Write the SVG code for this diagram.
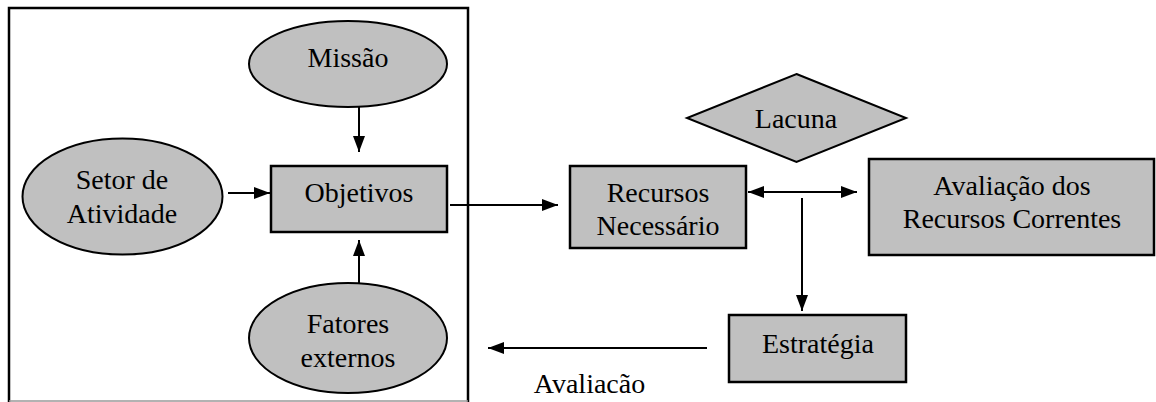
<svg xmlns="http://www.w3.org/2000/svg" width="1156" height="402" viewBox="0 0 1156 402">
<style>
  .shape { fill: #c0c0c0; stroke: #000; stroke-width: 2; }
  .box { fill: #c0c0c0; stroke: #000; stroke-width: 2.5; }
  .frame { fill: none; stroke: #000; stroke-width: 2.5; }
  .lbl { font-family: 'Liberation Serif', 'Times New Roman', Times, serif; font-size: 28px; fill: #000; text-anchor: middle; }
  .conn { stroke: #000; stroke-width: 2; fill: none; }
</style>
<defs>
  <marker id="arr" markerWidth="16" markerHeight="12" refX="16" refY="6" orient="auto-start-reverse" markerUnits="userSpaceOnUse">
    <path d="M0,0 L16,6 L0,12 Z" fill="#000"/>
  </marker>
</defs>
<rect id="frame" class="frame" x="9" y="8" width="459" height="400"/>
<line x1="9" y1="401" x2="468" y2="401" stroke="#999" stroke-width="1.5"/>
<g id="missao">
  <ellipse class="shape" cx="348" cy="64" rx="99" ry="43"/>
  <text class="lbl" x="348" y="67">Missão</text>
</g>
<g id="setor">
  <ellipse class="shape" cx="122.5" cy="196.5" rx="100" ry="58"/>
  <text class="lbl" x="122" y="189">Setor de</text>
  <text class="lbl" x="122" y="223">Atividade</text>
</g>
<g id="objetivos">
  <rect class="box" x="271" y="166" width="176" height="66"/>
  <text class="lbl" x="359" y="202">Objetivos</text>
</g>
<g id="fatores">
  <ellipse class="shape" cx="348" cy="338" rx="99" ry="55"/>
  <text class="lbl" x="348" y="333">Fatores</text>
  <text class="lbl" x="348" y="367">externos</text>
</g>
<g id="lacuna">
  <polygon class="shape" points="796.5,74 906,118 796.5,162 687,118"/>
  <text class="lbl" x="796" y="128">Lacuna</text>
</g>
<g id="recursos">
  <rect class="box" x="570" y="166" width="176" height="82"/>
  <text class="lbl" x="658" y="202">Recursos</text>
  <text class="lbl" x="658" y="235">Necessário</text>
</g>
<g id="avaliacao-recursos">
  <rect class="box" x="869" y="159" width="285" height="96"/>
  <text class="lbl" x="1012" y="195">Avaliação dos</text>
  <text class="lbl" x="1012" y="228">Recursos Correntes</text>
</g>
<g id="estrategia">
  <rect class="box" x="729" y="315" width="177" height="67"/>
  <text class="lbl" x="818" y="353">Estratégia</text>
</g>
<g id="connectors">
  <line class="conn" x1="359" y1="107" x2="359" y2="152" marker-end="url(#arr)"/>
  <line class="conn" x1="228" y1="193" x2="270" y2="193" marker-end="url(#arr)"/>
  <line class="conn" x1="359" y1="283" x2="359" y2="240" marker-end="url(#arr)"/>
  <line class="conn" x1="450" y1="205" x2="558" y2="205" marker-end="url(#arr)"/>
  <line class="conn" x1="748" y1="192" x2="857" y2="192" marker-start="url(#arr)" marker-end="url(#arr)"/>
  <line class="conn" x1="802" y1="198" x2="802" y2="311" marker-end="url(#arr)"/>
  <line class="conn" x1="707" y1="348" x2="488" y2="348" marker-end="url(#arr)"/>
  <text class="lbl" x="589.5" y="393">Avaliacão</text>
</g>
</svg>
